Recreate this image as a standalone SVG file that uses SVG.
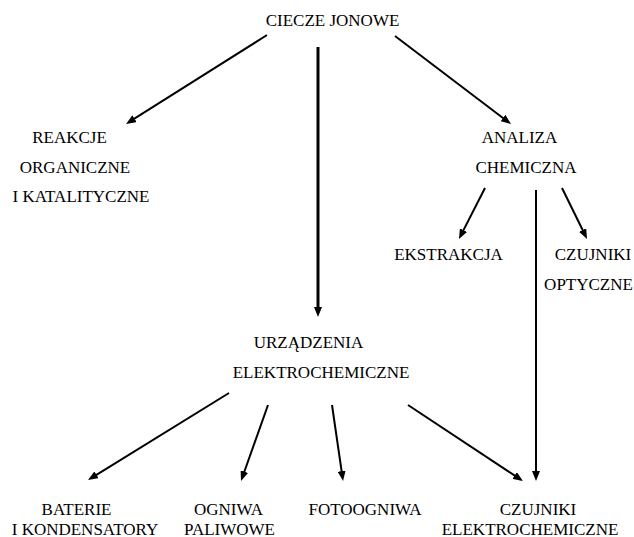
<svg xmlns="http://www.w3.org/2000/svg" width="634" height="537" viewBox="0 0 634 537">
<style>
text{font-family:"Liberation Serif","Times New Roman",serif;font-size:17px;fill:#000;text-anchor:middle}
.c line{stroke:#000;stroke-width:2;marker-end:url(#ah)}
.c line.thick{stroke-width:3}
</style>
<defs>
<marker id="ah" viewBox="0 0 10 8" markerWidth="10" markerHeight="8" refX="2" refY="4" orient="auto" markerUnits="userSpaceOnUse">
<path d="M0,0 L10,4 L0,8 z" fill="#000"/>
</marker>
</defs>
<rect width="634" height="537" fill="#fff"/>
<g id="connectors" class="c">
<line x1="267" y1="35" x2="132.8" y2="119.7"/>
<line class="thick" x1="318" y1="47" x2="318" y2="309"/>
<line x1="395" y1="36" x2="504.6" y2="119.2"/>
<line x1="485" y1="188" x2="462.6" y2="231.9"/>
<line x1="562" y1="188" x2="583.5" y2="231.8"/>
<line x1="536" y1="190" x2="536" y2="473"/>
<line x1="229" y1="393" x2="94.8" y2="475.8"/>
<line x1="268" y1="405" x2="243.7" y2="473.5"/>
<line x1="332" y1="405" x2="341.9" y2="473.1"/>
<line x1="408" y1="405" x2="516.3" y2="476.6"/>
</g>
<g id="ciecze"><text x="332.5" y="26">CIECZE JONOWE</text></g>
<g id="reakcje"><text x="69.5" y="143">REAKCJE</text><text x="75" y="173">ORGANICZNE</text><text x="81" y="202">I KATALITYCZNE</text></g>
<g id="analiza"><text x="519.5" y="143">ANALIZA</text><text x="526" y="173">CHEMICZNA</text></g>
<g id="ekstrakcja"><text x="448.5" y="260">EKSTRAKCJA</text></g>
<g id="optyczne"><text x="593" y="260">CZUJNIKI</text><text x="588.5" y="290">OPTYCZNE</text></g>
<g id="urzadzenia"><text x="308.5" y="348">URZĄDZENIA</text><text x="321" y="378">ELEKTROCHEMICZNE</text></g>
<g id="baterie"><text x="76.5" y="515">BATERIE</text><text x="85" y="535">I KONDENSATORY</text></g>
<g id="ogniwa"><text x="228.5" y="515">OGNIWA</text><text x="229.5" y="535">PALIWOWE</text></g>
<g id="fotoogniwa"><text x="365" y="515">FOTOOGNIWA</text></g>
<g id="czujniki-el"><text x="538" y="515">CZUJNIKI</text><text x="530" y="535">ELEKTROCHEMICZNE</text></g>
</svg>
